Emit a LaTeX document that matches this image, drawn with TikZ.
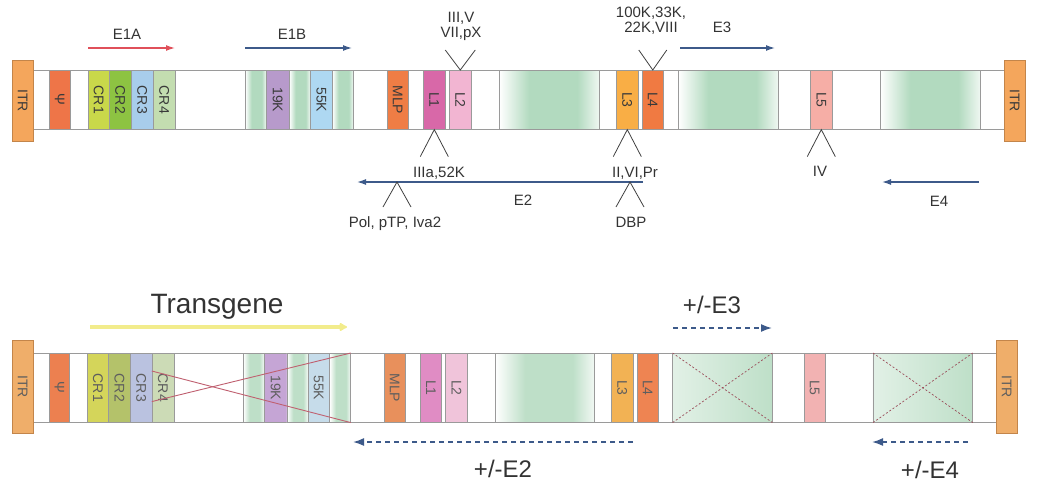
\documentclass[tikz,border=0pt]{standalone}
\usepackage{fontspec}
\setmainfont{Liberation Sans}
\usetikzlibrary{shapes,arrows.meta}

% colours, t = full genome, b = vector
\definecolor{tITR}{HTML}{F4A65C}\definecolor{bITR}{HTML}{EFAE6A}
\definecolor{tPSI}{HTML}{EE7548}\definecolor{bPSI}{HTML}{EC8050}
\definecolor{tCR1}{HTML}{C9D84A}\definecolor{bCR1}{HTML}{D4D55A}
\definecolor{tCR2}{HTML}{8DC342}\definecolor{bCR2}{HTML}{B4C26A}
\definecolor{tCR3}{HTML}{A8CDEB}\definecolor{bCR3}{HTML}{BAC2E0}
\definecolor{tCR4}{HTML}{C3DDB0}\definecolor{bCR4}{HTML}{CCDBB6}
\definecolor{t19K}{HTML}{B79ACB}\definecolor{b19K}{HTML}{C5A5D5}
\definecolor{t55K}{HTML}{AED8F2}\definecolor{b55K}{HTML}{C6DCEA}
\definecolor{tMLP}{HTML}{EF7D45}\definecolor{bMLP}{HTML}{E8905C}
\definecolor{tL1}{HTML}{D868A8}\definecolor{bL1}{HTML}{E08CC4}
\definecolor{tL2}{HTML}{F2B5D2}\definecolor{bL2}{HTML}{F0C4DA}
\definecolor{tL3}{HTML}{F9AE45}\definecolor{bL3}{HTML}{F2B254}
\definecolor{tL4}{HTML}{F07A42}\definecolor{bL4}{HTML}{EE8452}
\definecolor{tL5}{HTML}{F6AEA6}\definecolor{bL5}{HTML}{F2B2B2}
\definecolor{tGRN}{HTML}{B2DABF}\definecolor{bGRN}{HTML}{BEDFC8}
\definecolor{tTXT}{HTML}{3A3A3A}\definecolor{bTXT}{HTML}{5E5E5E}
\definecolor{framecol}{HTML}{9A9A9A}
\definecolor{arrowblue}{HTML}{3D5A8A}
\definecolor{arrowred}{HTML}{E0505A}
\definecolor{tgyellow}{HTML}{F2EC8C}
\definecolor{delred}{HTML}{C06070}

% green regions fade out at both ends (path is fitted to 25bp..75bp)
\pgfdeclarehorizontalshading{tfade}{100bp}{color(0bp)=(white); color(25bp)=(white); color(40bp)=(tGRN); color(64bp)=(tGRN); color(75bp)=(tGRN!20!white); color(100bp)=(tGRN!20!white)}
\pgfdeclarehorizontalshading{bfade}{100bp}{color(0bp)=(white); color(25bp)=(white); color(40bp)=(bGRN); color(64bp)=(bGRN); color(75bp)=(bGRN!20!white); color(100bp)=(bGRN!20!white)}

\tikzstyle{genebox} = [draw=framecol, line width=0.6pt, rectangle, inner sep=0pt, anchor=north west, font=\fontsize{14}{14}\selectfont]
\tikzstyle{itrbox} = [genebox, draw=tITR!80!black, minimum width=21pt]
\tikzstyle{frameline} = [draw=framecol, line width=0.8pt]
\tikzstyle{lbl} = [font=\fontsize{15}{15}\selectfont, text=black!80, inner sep=0pt, anchor=base]
\tikzstyle{vlbl} = [lbl, align=center, anchor=south]
\tikzstyle{biglbl} = [lbl, font=\fontsize{24}{24}\selectfont]
\tikzstyle{vmark} = [draw=black!75, line width=0.8pt]
\tikzstyle{genearrow} = [draw=arrowblue, line width=1.3pt, -{Latex[length=9pt,width=6pt]}]
\tikzstyle{optarrow} = [draw=arrowblue, line width=1.6pt, dash pattern=on 5pt off 4pt, -{Latex[length=11pt,width=8pt]}]
\tikzstyle{tgarrow} = [draw=tgyellow, line width=3.5pt, -{Latex[round,length=9pt,width=10pt]}]
\tikzstyle{delline} = [draw=delred, line width=0.9pt]
\tikzstyle{crossline} = [draw=delred!80!black, line width=0.7pt, dash pattern=on 2pt off 2pt]
\tikzset{greenbox/.style={shade, shading=#1fade}}

% one box of the strip: name, x left, x right, options, label
\newcommand{\gbox}[5]{%
  \pgfmathsetmacro{\boxw}{(#3-#2)*\stripsx}%
  \node[genebox, #4, minimum width=\boxw pt, minimum height=\striph pt] (#1) at ({#2*\stripsx},\stripy) {\rotatebox{-90}{#5}};%
}

% whole genome strip: prefix, strip top, strip height, ITR top, ITR height, x scale
\newcommand{\drawstrip}[6]{%
  \def\stripy{#2}\def\striph{#3}\def\stripsx{#6}%
  \gbox{#1-frame}{33}{1004}{draw=none, fill=white}{}
  \draw[frameline] (#1-frame.north west) -- (#1-frame.north east) (#1-frame.south west) -- (#1-frame.south east);
  \gbox{#1-psi}{49}{70}{fill=#1PSI, text=#1TXT}{Ψ}
  \gbox{#1-cr1}{88}{109}{fill=#1CR1, text=#1TXT}{CR1}
  \gbox{#1-cr2}{109}{131}{fill=#1CR2, text=#1TXT}{CR2}
  \gbox{#1-cr3}{131}{153}{fill=#1CR3, text=#1TXT}{CR3}
  \gbox{#1-cr4}{153}{175}{fill=#1CR4, text=#1TXT}{CR4}
  \gbox{#1-w1}{175}{245}{fill=white}{}
  \gbox{#1-g1}{245}{266}{greenbox=#1}{}
  \gbox{#1-19k}{266}{289}{fill=#119K, text=#1TXT}{19K}
  \gbox{#1-g2}{289}{310}{greenbox=#1}{}
  \gbox{#1-55k}{310}{332}{fill=#155K, text=#1TXT}{55K}
  \gbox{#1-g3}{332}{353}{greenbox=#1}{}
  \gbox{#1-mlp}{387}{408}{fill=#1MLP, text=#1TXT}{MLP}
  \gbox{#1-l1}{423}{445}{fill=#1L1, text=#1TXT}{L1}
  \gbox{#1-l2}{449}{471}{fill=#1L2, text=#1TXT}{L2}
  \gbox{#1-g4}{499}{599}{greenbox=#1}{}
  \gbox{#1-l3}{616}{638}{fill=#1L3, text=#1TXT}{L3}
  \gbox{#1-l4}{642}{663}{fill=#1L4, text=#1TXT}{L4}
  \gbox{#1-g5}{678}{778}{greenbox=#1}{}
  \gbox{#1-l5}{810}{832}{fill=#1L5, text=#1TXT}{L5}
  \gbox{#1-g6}{880}{980}{greenbox=#1}{}
  \node[itrbox, fill=#1ITR, text=#1TXT, minimum height=#5pt] (#1-itrl) at ({12*#6},#4) {\rotatebox{-90}{ITR}};
  \node[itrbox, fill=#1ITR, text=#1TXT, minimum height=#5pt] (#1-itrr) at ({1004*#6},#4) {\rotatebox{-90}{ITR}};
}

\begin{document}
\begin{tikzpicture}[x=1pt, y=-1pt]
\useasboundingbox (0,0) rectangle (1037,488);

%%% wild type genome
\drawstrip{t}{70}{59}{60}{81}{1}

% early transcripts
\node[lbl] (e1a-txt) at (127,39) {E1A};
\node[lbl] (e1b-txt) at (292,39) {E1B};
\node[lbl] (e3-txt) at (722,32) {E3};
\coordinate (e1a-s) at (88,48);  \coordinate (e1a-e) at (175,48);
\coordinate (e1b-s) at (245,48); \coordinate (e1b-e) at (352,48);
\coordinate (e3-s) at (680,48);  \coordinate (e3-e) at (775,48);
\draw[genearrow, draw=arrowred] (e1a-s) -- (e1a-e);
\draw[genearrow] (e1b-s) -- (e1b-e);
\draw[genearrow] (e3-s) -- (e3-e);

% late proteins above
\draw[vmark] (t-l2.north) ++(-15,-20) -- (t-l2.north) -- ++(15,-20);
\draw[vmark] (t-l4.north) ++(-14,-20) -- (t-l4.north) -- ++(14,-20);
\node[vlbl] (l2-txt) at (461,41) {III,V\\VII,pX};
\node[vlbl] (l4-txt) at (651,34.5) {100K,33K,\\22K,VIII};

% late proteins below
\draw[vmark] (t-l1.south) ++(-14,27) -- (t-l1.south) -- ++(14,27);
\draw[vmark] (t-l3.south) ++(-14,27) -- (t-l3.south) -- ++(14,27);
\draw[vmark] (t-l5.south) ++(-14,27) -- (t-l5.south) -- ++(14,27);
\node[lbl] (l1-txt) at (439,177) {IIIa,52K};
\node[lbl] (l3-txt) at (635,177) {II,VI,Pr};
\node[lbl] (l5-txt) at (820,176) {IV};

% E2 and E4
\coordinate (e2-s) at (643,182); \coordinate (e2-e) at (357,182);
\coordinate (e4-s) at (979,182); \coordinate (e4-e) at (882,182);
\draw[genearrow] (e2-s) -- (e2-e);
\draw[genearrow] (e4-s) -- (e4-e);
\coordinate (pol-v) at (397,182);
\coordinate (dbp-v) at (630,182);
\draw[vmark] (pol-v) ++(-14,25) -- (pol-v) -- ++(14,25);
\draw[vmark] (dbp-v) ++(-14,25) -- (dbp-v) -- ++(14,25);
\node[lbl] (e2-txt) at (523,205) {E2};
\node[lbl] (e4-txt) at (939,206) {E4};
\node[lbl] (pol-txt) at (395,227) {Pol, pTP, Iva2};
\node[lbl] (dbp-txt) at (631,227) {DBP};

%%% vector
\drawstrip{b}{353}{69}{340}{93}{0.992}

% deleted regions
\draw[delline] ([yshift=-18pt]b-cr4.north west) -- (b-g3.south east);
\draw[delline] ([yshift=21pt]b-cr4.south west) -- (b-g3.north east);
\foreach \g in {b-g5, b-g6} {
  \draw[draw=framecol, line width=0.6pt, left color=bGRN!45!white, right color=bGRN] (\g.north west) rectangle (\g.south east);
  \draw[crossline] (\g.north west) -- (\g.south east) (\g.south west) -- (\g.north east);
}

% transgene and optional regions
\node[biglbl, font=\fontsize{28}{28}\selectfont] (tg-txt) at (217,313) {Transgene};
\coordinate (tg-s) at (90,327); \coordinate (tg-e) at (347,327);
\draw[tgarrow] (tg-s) -- (tg-e);
\node[biglbl] (be3-txt) at (712,313) {+/-E3};
\node[biglbl] (be2-txt) at (503,477) {+/-E2};
\node[biglbl] (be4-txt) at (930,478) {+/-E4};
\coordinate (be3-s) at (673,328); \coordinate (be3-e) at (772,328);
\coordinate (be2-s) at (633,442); \coordinate (be2-e) at (353,442);
\coordinate (be4-s) at (968,442); \coordinate (be4-e) at (872,442);
\draw[optarrow] (be3-s) -- (be3-e);
\draw[optarrow] (be2-s) -- (be2-e);
\draw[optarrow] (be4-s) -- (be4-e);
\end{tikzpicture}
\end{document}
